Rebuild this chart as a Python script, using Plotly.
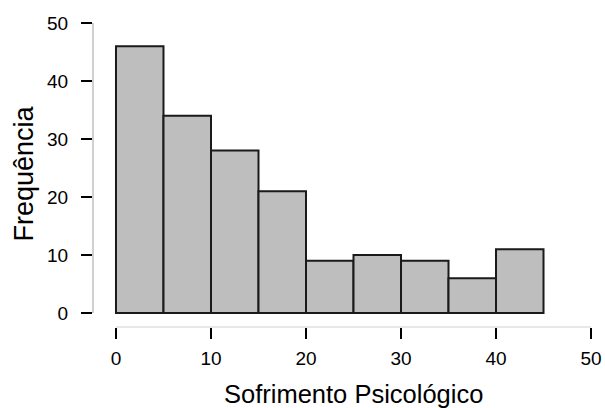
import plotly.graph_objects as go

bin_edges = [0, 5, 10, 15, 20, 25, 30, 35, 40, 45]
counts = [46, 34, 28, 21, 9, 10, 9, 6, 11]
x_ticks = [0, 10, 20, 30, 40, 50]
y_ticks = [0, 10, 20, 30, 40, 50]
x_title = "Sofrimento Psicológico"
y_title = "Frequência"

centers = [(bin_edges[i] + bin_edges[i + 1]) / 2 for i in range(len(counts))]
widths = [bin_edges[i + 1] - bin_edges[i] for i in range(len(counts))]

FONT = "Liberation Sans, Arial, sans-serif"

fig = go.Figure(go.Bar(
    x=centers, y=counts, width=widths,
    marker=dict(color="#bebebe", line=dict(color="#1a1a1a", width=2)),
    hoverinfo="x+y",
))

fig.update_layout(
    width=605, height=408,
    margin=dict(l=93, r=8, t=20, b=81, autoexpand=False),
    plot_bgcolor="white", paper_bgcolor="white",
    showlegend=False,
    font=dict(family=FONT, size=19, color="black"),
    xaxis=dict(
        range=[-2.42, 50.63], tickmode="array", tickvals=x_ticks,
        ticks="outside", ticklen=11, tickwidth=2, tickcolor="black",
        showgrid=False, zeroline=False, showline=False,
        ticklabelstandoff=3,
    ),
    yaxis=dict(
        range=[-2.41, 50.52], tickmode="array", tickvals=y_ticks,
        ticks="outside", ticklen=11, tickwidth=2, tickcolor="black",
        showgrid=False, zeroline=False, showline=False,
        ticklabelstandoff=9,
    ),
    shapes=[
        dict(type="line", xref="paper", yref="y", x0=0, x1=0, y0=y_ticks[0], y1=y_ticks[-1],
             line=dict(color="#c0c0c0", width=1.5)),
        dict(type="line", xref="x", yref="paper", x0=x_ticks[0], x1=x_ticks[-1], y0=0, y1=0,
             line=dict(color="#e0e0e0", width=1.5)),
    ],
    annotations=[
        dict(text=x_title, xref="x", yref="paper",
             x=(x_ticks[0] + x_ticks[-1]) / 2, y=0, yshift=-67,
             xanchor="center", yanchor="middle", showarrow=False,
             font=dict(size=25.5)),
        dict(text=y_title, xref="paper", yref="paper", x=0, y=0.5, xshift=-70,
             xanchor="center", yanchor="middle", textangle=-90, showarrow=False,
             font=dict(size=27)),
    ],
)

fig.write_html("out.html", config={"displayModeBar": False},
               post_script="document.body.style.margin='0';")
